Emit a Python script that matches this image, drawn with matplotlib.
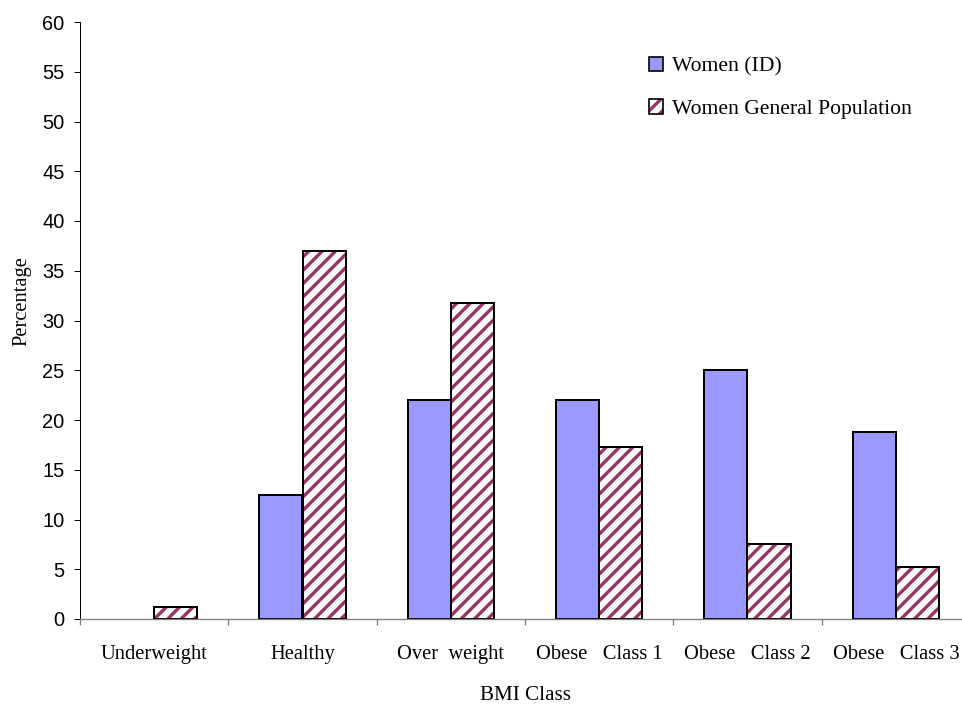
import numpy as np
import matplotlib.pyplot as plt
from matplotlib.patches import Patch

# BMI distribution, women with ID vs general population
categories = ['Underweight', 'Healthy', 'Over  weight', 'Obese   Class 1',
              'Obese   Class 2', 'Obese   Class 3']
women_id = [0, 12.5, 22, 22, 25, 18.8]
women_gen = [1.2, 37, 31.8, 17.3, 7.5, 5.2]

blue = '#9999ff'
plum = '#993366'
serif = 'Liberation Serif'

plt.rcParams['hatch.linewidth'] = 3.0

DPI = 80
W, H = 962, 707
fig = plt.figure(figsize=(W / DPI, H / DPI), dpi=DPI)
ax = fig.add_axes([80 / W, 88 / H, 890 / W, 597 / H])

x = np.arange(len(categories))
w = 0.29
b1 = ax.bar(x - w / 2, women_id, w, color=blue, edgecolor='black', linewidth=1.8)
ax.bar(x + w / 2, women_gen, w, color='white', edgecolor=plum, hatch='//',
       linewidth=0)
b2 = ax.bar(x + w / 2, women_gen, w, color='none', edgecolor='black', linewidth=1.8)
# no outline for empty bars
for p in list(b1) + list(b2):
    if p.get_height() == 0:
        p.set_linewidth(0)

ax.set_xlim(-0.5, len(categories) - 0.5)
ax.set_ylim(0, 60)
ax.set_yticks(np.arange(0, 61, 5))
ax.set_xticks(np.arange(-0.5, len(categories), 1))
ax.set_xticklabels([])
ax.set_xticks(x, minor=True)
ax.set_xticklabels(categories, minor=True, family=serif, fontsize=18.5)
ax.tick_params(axis='x', which='minor', length=0, pad=23)
ax.tick_params(axis='x', which='major', length=5, width=1.2, color='#808080')
ax.tick_params(axis='y', length=5, width=0.9, labelsize=18, pad=9)
for lab in ax.get_yticklabels():
    lab.set_family('Liberation Sans')

for s in ['top', 'right']:
    ax.spines[s].set_visible(False)
ax.spines['bottom'].set_color('#808080')
ax.spines['bottom'].set_linewidth(1.2)
ax.spines['left'].set_linewidth(0.9)

fig.text(21.5 / W, 1 - 301 / H, 'Percentage', rotation=90, ha='center',
         va='center', family=serif, fontsize=18.5)
fig.text(525 / W, 1 - 696 / H, 'BMI Class', ha='center', va='center',
         family=serif, fontsize=19)

# legend: hatch drawn in plum, outline in black on top
hatch_key = (Patch(facecolor='white', edgecolor=plum, hatch='//', linewidth=0),
             Patch(facecolor='none', edgecolor='black', linewidth=1.5))
handles = [Patch(facecolor=blue, edgecolor='black', linewidth=1.5), hatch_key]
leg = fig.legend(handles, ['Women (ID)', 'Women General Population'],
                 loc='upper left', bbox_to_anchor=(649 / W, 1 - 57 / H),
                 frameon=False, prop={'family': serif, 'size': 19.5},
                 handlelength=0.65, handleheight=0.65, handletextpad=0.42,
                 labelspacing=1.03, borderpad=0, borderaxespad=0)

fig.savefig('out.png', dpi=DPI)
